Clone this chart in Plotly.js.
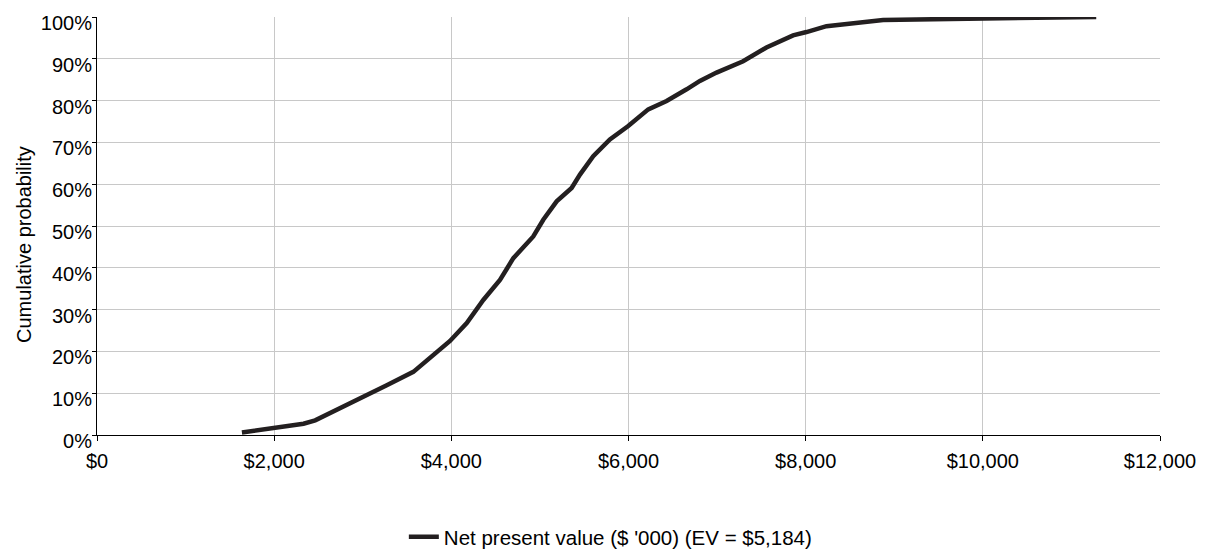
<!DOCTYPE html>
<html>
<head>
<meta charset="utf-8">
<script src="https://cdn.plot.ly/plotly-3.0.1.min.js"></script>
<style>
html,body{margin:0;padding:0;background:#fff;}
#chart{width:1211px;height:555px;}
</style>
</head>
<body>
<div id="chart"></div>
<script>
// Net present value ($) and cumulative probability (%)
const npvValues = [1636, 2000, 2331, 2463, 2782, 3083, 3271, 3571, 3797, 3985, 4174, 4361, 4549, 4700, 4925, 5038, 5189, 5358, 5452, 5602, 5790, 5997, 6223, 6430, 6656, 6806, 6994, 7294, 7557, 7858, 8009, 8235, 8874, 11280];
const cumProb   = [0.6, 1.6, 2.7, 3.5, 6.7, 9.8, 11.9, 15.1, 19.1, 22.5, 26.8, 32.3, 37.1, 42.3, 47.5, 51.5, 55.9, 59.1, 62.3, 66.7, 70.7, 73.9, 77.9, 79.9, 82.7, 84.7, 86.7, 89.4, 92.7, 95.6, 96.4, 97.8, 99.3, 100];
const seriesName = "Net present value ($ '000) (EV = $5,184)";
const yTitle = "Cumulative probability";
const xTickVals = [0, 2000, 4000, 6000, 8000, 10000, 12000];
const xTickText = ['$0', '$2,000', '$4,000', '$6,000', '$8,000', '$10,000', '$12,000'];
const yTickVals = [0, 10, 20, 30, 40, 50, 60, 70, 80, 90, 100];
const yTickText = ['0%', '10%', '20%', '30%', '40%', '50%', '60%', '70%', '80%', '90%', '100%'];

const FONT = 'Liberation Sans, Arial, Helvetica, sans-serif';

const trace = {
  x: npvValues,
  y: cumProb,
  type: 'scatter',
  mode: 'lines',
  name: seriesName,
  line: {color: '#231f20', width: 4.5},
  showlegend: true
};

const layout = {
  width: 1211,
  height: 555,
  margin: {l: 97, r: 51, t: 17, b: 120},
  paper_bgcolor: '#ffffff',
  plot_bgcolor: '#ffffff',
  font: {family: FONT, size: 20, color: '#000000'},
  showlegend: true,
  legend: {
    orientation: 'h',
    xref: 'container', yref: 'container',
    x: 0.504, xanchor: 'center',
    y: 0.0324, yanchor: 'middle',
    font: {family: FONT, size: 20.5, color: '#000'},
    bgcolor: 'rgba(0,0,0,0)'
  },
  xaxis: {
    range: [0, 12000],
    automargin: false,
    tickmode: 'array',
    tickvals: xTickVals,
    ticktext: xTickText,
    showgrid: true,
    gridcolor: '#c8c8c8',
    gridwidth: 1,
    showline: true,
    linecolor: '#000',
    linewidth: 1,
    ticks: 'outside',
    ticklen: 5,
    tickcolor: '#000',
    zeroline: false,
    ticklabelstandoff: 3,
    tickfont: {family: FONT, size: 20, color: '#000'},
    fixedrange: true
  },
  yaxis: {
    range: [0, 100],
    automargin: false,
    tickmode: 'array',
    tickvals: yTickVals,
    ticktext: yTickText,
    showgrid: true,
    gridcolor: '#c8c8c8',
    gridwidth: 1,
    showline: true,
    linecolor: '#000',
    linewidth: 1,
    ticks: 'outside',
    ticklen: 4,
    tickcolor: '#000',
    zeroline: false,
    ticklabelstandoff: -4,
    ticklabelshift: 6,
    tickfont: {family: FONT, size: 20, color: '#000'},
    fixedrange: true
  },
  annotations: [{
    text: yTitle,
    xref: 'paper', yref: 'paper',
    x: -0.0687, y: 0.457,
    xanchor: 'center', yanchor: 'middle',
    textangle: -90,
    showarrow: false,
    font: {family: FONT, size: 20, color: '#000'}
  }]
};

Plotly.newPlot('chart', [trace], layout, {displayModeBar: false, staticPlot: true});
</script>
</body>
</html>
